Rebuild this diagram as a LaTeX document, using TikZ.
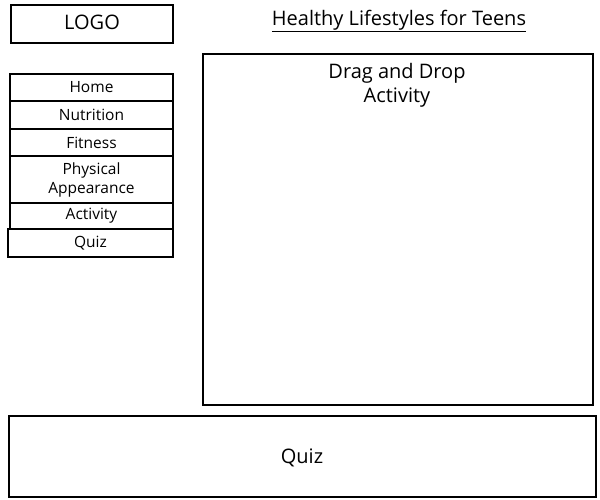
\documentclass[tikz,border=0pt]{standalone}
\usepackage{fontspec}
\setmainfont{Open Sans}
\begin{document}
\begin{tikzpicture}[x=1pt,y=-1pt,
  box/.style={draw=black,line width=2pt,inner sep=0pt},
  menu/.style={font=\fontsize{15.5}{19}\selectfont},
  big/.style={font=\fontsize{20}{24}\selectfont}]
\useasboundingbox (0,0) rectangle (600,500);
% logo
\draw[box] (11,5) rectangle (173,43);
\node[big] (logo) at (92,22) {LOGO};
% title
\node[big] (title) at (399,21) {\underline{Healthy Lifestyles for Teens}};
% menu
\draw[box] (10,74) rectangle (173,101);
\node[menu] (home) at (91.5,87.5) {Home};
\draw[box] (10,101) rectangle (173,129);
\node[menu] (nut) at (91.5,115) {Nutrition};
\draw[box] (10,129) rectangle (173,156);
\node[menu] (fit) at (91.5,142.5) {Fitness};
\draw[box] (10,156) rectangle (173,203);
\node[menu,align=center] (phys) at (91.5,179.5) {Physical\\Appearance};
\draw[box] (10,203) rectangle (173,229);
\node[menu] (act) at (91.5,216) {Activity};
\draw[box] (8,229) rectangle (173,257);
\node[menu] (quiz) at (90.5,243) {Quiz};
% main activity box
\draw[box] (203,54) rectangle (593,405);
\node[big,align=center] (drag) at (397,85) {Drag and Drop\\Activity};
% bottom quiz
\draw[box] (9,416) rectangle (596,497);
\node[big] (bquiz) at (302,458) {Quiz};
\end{tikzpicture}
\end{document}
